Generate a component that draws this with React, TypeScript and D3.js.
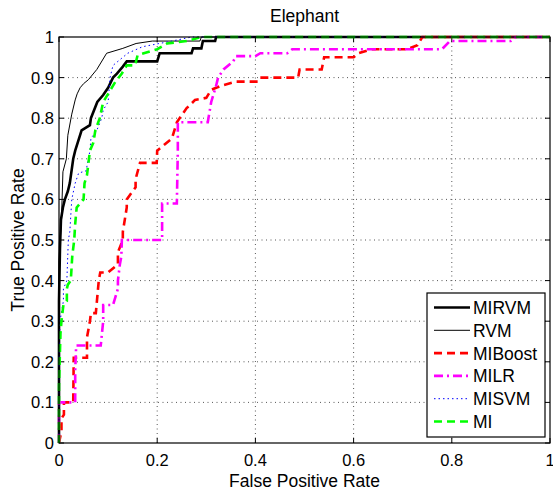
import React from "react";
import * as d3 from "d3";

// ROC points [false positive rate, true positive rate]
const mirvm: [number, number][] = [
  [0, 0], [0, 0.35], [0.002, 0.48], [0.004, 0.55], [0.008, 0.58], [0.012, 0.6],
  [0.018, 0.62], [0.022, 0.64], [0.029, 0.7], [0.033, 0.72], [0.046, 0.77],
  [0.063, 0.783], [0.065, 0.8], [0.078, 0.84], [0.09, 0.857], [0.1, 0.875],
  [0.11, 0.9], [0.118, 0.91], [0.13, 0.927], [0.138, 0.94], [0.2, 0.94],
  [0.205, 0.96], [0.27, 0.96], [0.273, 0.972], [0.29, 0.972], [0.293, 0.99],
  [0.318, 0.99], [0.32, 1], [1, 1],
];
const rvm: [number, number][] = [
  [0, 0], [0, 0.45], [0.005, 0.55], [0.008, 0.668], [0.015, 0.7], [0.018, 0.758],
  [0.026, 0.81], [0.033, 0.845], [0.037, 0.86], [0.043, 0.875], [0.05, 0.885],
  [0.06, 0.895], [0.077, 0.92], [0.097, 0.96], [0.13, 0.972], [0.157, 0.984],
  [0.19, 0.99], [0.287, 0.99], [0.29, 1], [1, 1],
];
const miboost: [number, number][] = [
  [0, 0], [0.005, 0.03], [0.005, 0.06], [0.01, 0.07], [0.01, 0.1], [0.029, 0.1],
  [0.03, 0.21], [0.057, 0.21], [0.057, 0.26], [0.063, 0.3], [0.065, 0.32],
  [0.075, 0.32], [0.078, 0.36], [0.081, 0.4], [0.084, 0.42], [0.1, 0.42],
  [0.12, 0.44], [0.12, 0.47], [0.13, 0.5], [0.13, 0.52], [0.138, 0.58],
  [0.138, 0.6], [0.147, 0.615], [0.156, 0.63], [0.156, 0.65], [0.165, 0.69],
  [0.199, 0.69], [0.2, 0.72], [0.21, 0.73], [0.23, 0.75], [0.24, 0.79],
  [0.26, 0.825], [0.265, 0.83], [0.277, 0.845], [0.3, 0.85], [0.31, 0.87],
  [0.33, 0.88], [0.36, 0.89], [0.405, 0.89], [0.41, 0.9], [0.487, 0.9],
  [0.49, 0.92], [0.535, 0.92], [0.54, 0.95], [0.6, 0.95], [0.61, 0.96],
  [0.637, 0.97], [0.71, 0.97], [0.73, 0.98], [0.74, 1], [1, 1],
];
const milr: [number, number][] = [
  [0, 0], [0, 0.1], [0.033, 0.1], [0.033, 0.18], [0.035, 0.24], [0.085, 0.24],
  [0.09, 0.3], [0.09, 0.34], [0.11, 0.34], [0.12, 0.38], [0.12, 0.4],
  [0.124, 0.44], [0.127, 0.46], [0.128, 0.5], [0.21, 0.5], [0.21, 0.59],
  [0.24, 0.59], [0.242, 0.72], [0.242, 0.79], [0.303, 0.79], [0.31, 0.84],
  [0.32, 0.88], [0.324, 0.9], [0.335, 0.92], [0.355, 0.94], [0.36, 0.953],
  [0.4, 0.953], [0.41, 0.96], [0.465, 0.96], [0.475, 0.97], [0.78, 0.97],
  [0.796, 0.99], [0.92, 0.99], [0.93, 1], [1, 1],
];
const misvm: [number, number][] = [
  [0, 0], [0, 0.2], [0.002, 0.3], [0.009, 0.35], [0.009, 0.38], [0.016, 0.4],
  [0.019, 0.5], [0.022, 0.52], [0.026, 0.6], [0.033, 0.64], [0.04, 0.665],
  [0.055, 0.67], [0.06, 0.7], [0.063, 0.72], [0.065, 0.75], [0.077, 0.77],
  [0.087, 0.8], [0.09, 0.82], [0.1, 0.84], [0.104, 0.9], [0.11, 0.93],
  [0.13, 0.95], [0.14, 0.96], [0.17, 0.976], [0.23, 0.99], [0.27, 1], [1, 1],
];
const mi: [number, number][] = [
  [0, 0], [0, 0.14], [0.003, 0.27], [0.005, 0.3], [0.009, 0.34], [0.016, 0.35],
  [0.016, 0.38], [0.018, 0.39], [0.024, 0.4], [0.027, 0.46], [0.031, 0.5],
  [0.033, 0.54], [0.036, 0.58], [0.05, 0.6], [0.052, 0.64], [0.057, 0.66],
  [0.06, 0.69], [0.063, 0.72], [0.07, 0.74], [0.074, 0.77], [0.083, 0.8],
  [0.09, 0.84], [0.115, 0.89], [0.128, 0.91], [0.138, 0.93], [0.155, 0.93],
  [0.16, 0.955], [0.2, 0.97], [0.22, 0.984], [0.26, 0.99], [0.29, 1], [1, 1],
];

const seriesNames = ["MIRVM", "RVM", "MIBoost", "MILR", "MISVM", "MI"];
const seriesData = [mirvm, rvm, miboost, milr, misvm, mi];
const xTicks = [0, 0.2, 0.4, 0.6, 0.8, 1];
const yTicks = [0, 0.1, 0.2, 0.3, 0.4, 0.5, 0.6, 0.7, 0.8, 0.9, 1];

// line styles, same order as the series
const styles = [
  { color: "#000", width: 2.6, dash: "" },
  { color: "#000", width: 1, dash: "" },
  { color: "#ff0000", width: 2.6, dash: "8,5" },
  { color: "#ff00ff", width: 2.6, dash: "9,4,2,4" },
  { color: "#0000ff", width: 1, dash: "1.5,3" },
  { color: "#00ff00", width: 2.6, dash: "8,5" },
];

const W = 553;
const H = 489;
const font = "'Liberation Sans', Arial, Helvetica, sans-serif";

export default function App() {
  const x = d3.scaleLinear().domain([0, 1]).range([59, 550]);
  const y = d3.scaleLinear().domain([0, 1]).range([443, 37]);
  const line = d3
    .line<[number, number]>()
    .x((d) => x(d[0]))
    .y((d) => y(d[1]));

  const [x0, x1] = x.range();
  const [y0, y1] = y.range();

  // legend box
  const lg = { left: 427, top: 293, width: 118, height: 144 };
  const rowH = 22.8;

  return (
    <svg
      width={W}
      height={H}
      style={{ position: "absolute", left: 0, top: 0, background: "#fff" }}
      fontFamily={font}
    >
      <rect width={W} height={H} fill="#fff" />

      {/* grid */}
      <g stroke="#444" strokeWidth={0.9} strokeDasharray="1,3.5">
        {xTicks.slice(1, -1).map((t) => (
          <line key={"gx" + t} x1={x(t)} x2={x(t)} y1={y0} y2={y1} />
        ))}
        {yTicks.slice(1, -1).map((t) => (
          <line key={"gy" + t} x1={x0} x2={x1} y1={y(t)} y2={y(t)} />
        ))}
      </g>

      {/* ticks on all four sides, pointing in */}
      <g stroke="#000" strokeWidth={1}>
        {xTicks.map((t) => (
          <g key={"tx" + t}>
            <line x1={x(t)} x2={x(t)} y1={y0} y2={y0 - 5} />
            <line x1={x(t)} x2={x(t)} y1={y1} y2={y1 + 5} />
          </g>
        ))}
        {yTicks.map((t) => (
          <g key={"ty" + t}>
            <line x1={x0} x2={x0 + 5} y1={y(t)} y2={y(t)} />
            <line x1={x1} x2={x1 - 5} y1={y(t)} y2={y(t)} />
          </g>
        ))}
      </g>

      {/* curves */}
      {seriesData.map((d, i) => (
        <path
          key={seriesNames[i]}
          d={line(d) || ""}
          fill="none"
          stroke={styles[i].color}
          strokeWidth={styles[i].width}
          strokeDasharray={styles[i].dash || undefined}
          strokeLinejoin="miter"
        />
      ))}

      {/* axes box */}
      <rect
        x={x0}
        y={y1}
        width={x1 - x0}
        height={y0 - y1}
        fill="none"
        stroke="#000"
        strokeWidth={1.2}
      />

      {/* tick labels */}
      <g fontSize={16.5} fill="#000">
        {xTicks.map((t) => (
          <text key={"lx" + t} x={x(t)} y={466} textAnchor="middle">
            {String(t)}
          </text>
        ))}
        {yTicks.map((t) => (
          <text key={"ly" + t} x={54} y={y(t) + 6} textAnchor="end">
            {String(t)}
          </text>
        ))}
      </g>

      {/* titles */}
      <text x={(x0 + x1) / 2} y={21.5} textAnchor="middle" fontSize={17.5}>
        Elephant
      </text>
      <text x={(x0 + x1) / 2} y={486.5} textAnchor="middle" fontSize={17.5}>
        False Positive Rate
      </text>
      <text
        transform={`translate(24,${(y0 + y1) / 2}) rotate(-90)`}
        textAnchor="middle"
        fontSize={17.5}
      >
        True Positive Rate
      </text>

      {/* legend */}
      <g>
        <rect
          x={lg.left}
          y={lg.top}
          width={lg.width}
          height={lg.height}
          fill="#fff"
          stroke="#000"
          strokeWidth={1.2}
        />
        {seriesNames.map((name, i) => {
          const cy = lg.top + 14.5 + i * rowH;
          return (
            <g key={"lg" + name}>
              <line
                x1={lg.left + 7}
                x2={lg.left + 43}
                y1={cy}
                y2={cy}
                stroke={styles[i].color}
                strokeWidth={styles[i].width}
                strokeDasharray={styles[i].dash || undefined}
              />
              <text x={lg.left + 46} y={cy + 6.5} fontSize={17.5}>
                {name}
              </text>
            </g>
          );
        })}
      </g>
    </svg>
  );
}
